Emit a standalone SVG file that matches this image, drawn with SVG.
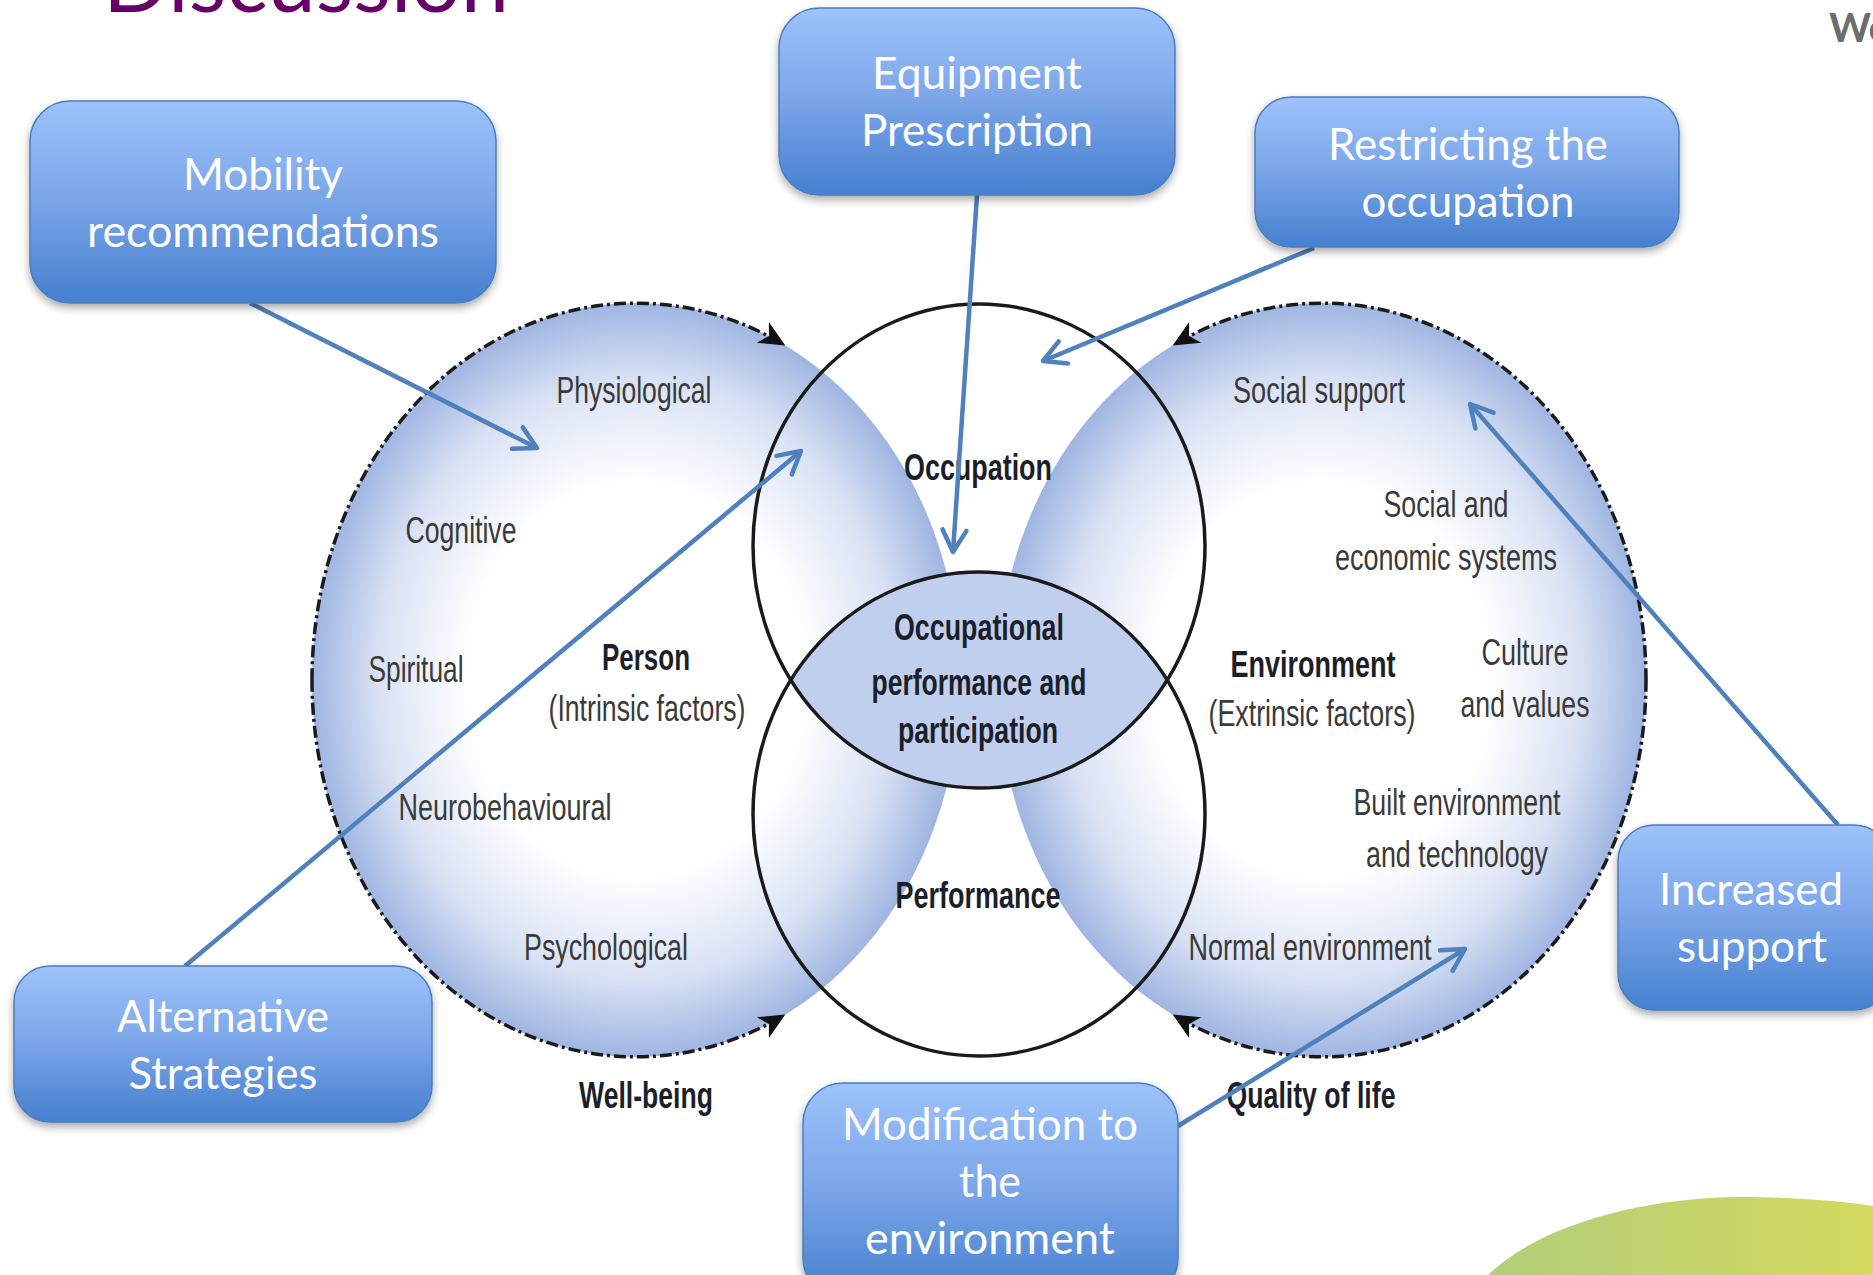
<svg xmlns="http://www.w3.org/2000/svg" width="1873" height="1275" viewBox="0 0 1873 1275">
<defs>
  <linearGradient id="boxGrad" x1="0" y1="0" x2="0" y2="1">
    <stop offset="0" stop-color="#9dc2fb"/>
    <stop offset="0.45" stop-color="#7ea8ea"/>
    <stop offset="1" stop-color="#4580cf"/>
  </linearGradient>
  <radialGradient id="ballGrad" cx="0.5" cy="0.5" r="0.5">
    <stop offset="0" stop-color="#ffffff"/>
    <stop offset="0.52" stop-color="#ffffff"/>
    <stop offset="0.8" stop-color="#d8e1f4"/>
    <stop offset="1" stop-color="#9fb5e1"/>
  </radialGradient>
  <linearGradient id="greenGrad" x1="0" y1="0" x2="1" y2="0">
    <stop offset="0" stop-color="#b2ce7a"/>
    <stop offset="1" stop-color="#d4d95e"/>
  </linearGradient>
  <filter id="shadow" x="-10%" y="-10%" width="120%" height="135%">
    <feDropShadow dx="0" dy="4" stdDeviation="4" flood-color="#000" flood-opacity="0.35"/>
  </filter>
  <marker id="open" markerUnits="userSpaceOnUse" markerWidth="34" markerHeight="34" viewBox="0 0 34 34" refX="28" refY="17" orient="auto" overflow="visible">
    <path d="M6,5 L28,17 L6,29" fill="none" stroke="#4f81bd" stroke-width="4.5" stroke-linecap="round" stroke-linejoin="round"/>
  </marker>
  <marker id="solid" markerUnits="userSpaceOnUse" markerWidth="28" markerHeight="26" viewBox="0 0 28 26" refX="21" refY="13" orient="auto" overflow="visible">
    <path d="M0,1 L26,13 L0,25 L7,13 z" fill="#111"/>
  </marker>
</defs>
<style>
  .box { fill: url(#boxGrad); stroke: #4b7dbd; stroke-width: 1.5; filter: url(#shadow); }
  .bt { font-family: Lato, "Liberation Sans", sans-serif; font-size: 44px; fill: #ffffff; text-anchor: middle; }
  .lbl { font-family: "Liberation Sans Narrow", "Liberation Sans", Arial, sans-serif; font-size: 37px; fill: #3a3a3a; text-anchor: middle; }
  .b { font-weight: bold; fill: #1c1f2a; }
  .conn { stroke: #4f81bd; stroke-width: 4.5; fill: none; marker-end: url(#open); }
  .circ { fill: none; stroke: #1a1a1a; stroke-width: 3.5; }
  .dash { fill: none; stroke: #1a1a1a; stroke-width: 3.5; stroke-dasharray: 12 4 3 4; marker-end: url(#solid); }
</style>

<rect x="0" y="0" width="1873" height="1275" fill="#ffffff"/>

<!-- slide decoration -->
<g id="slide">
  <text x="306" y="12" font-family="Lato, 'Liberation Sans', sans-serif" font-size="88" fill="#660066" text-anchor="middle" textLength="406" lengthAdjust="spacingAndGlyphs">Discussion</text>
  <text x="1829" y="42" font-family="Lato, 'Liberation Sans', sans-serif" font-size="40" font-weight="bold" fill="#6d6d6d">We</text>
  <path d="M1488,1275 C1540,1225 1640,1198 1740,1197 C1800,1197 1850,1202 1873,1206 L1873,1275 Z" fill="url(#greenGrad)"/>
</g>

<!-- PEOP model -->
<g id="model">
  <g id="person">
    <ellipse cx="636" cy="680" rx="324" ry="377" fill="url(#ballGrad)"/>
  </g>
  <g id="environment">
    <ellipse cx="1322" cy="680" rx="324" ry="377" fill="url(#ballGrad)"/>
  </g>
  <g id="lens">
    <path d="M790.8,680 A226,242 0 0 1 1167.2,680 A226,242 0 0 1 790.8,680 Z" fill="#c1cfee"/>
  </g>
  <g id="occupation">
    <ellipse class="circ" cx="979" cy="546" rx="226" ry="242"/>
  </g>
  <g id="performance">
    <ellipse class="circ" cx="979" cy="814" rx="226" ry="242"/>
  </g>
  <g id="cycles">
    <path class="dash" d="M312,680 A324,377 0 0 1 781,343"/>
    <path class="dash" d="M312,680 A324,377 0 0 0 781,1017"/>
    <path class="dash" d="M1646,680 A324,377 0 0 0 1177,343"/>
    <path class="dash" d="M1646,680 A324,377 0 0 1 1177,1017"/>
  </g>
  <g id="person-labels">
    <text class="lbl" x="634" y="403" textLength="155" lengthAdjust="spacingAndGlyphs">Physiological</text>
    <text class="lbl" x="461" y="543" textLength="111" lengthAdjust="spacingAndGlyphs">Cognitive</text>
    <text class="lbl" x="416" y="682" textLength="95" lengthAdjust="spacingAndGlyphs">Spiritual</text>
    <text class="lbl b" x="646" y="670" textLength="88" lengthAdjust="spacingAndGlyphs">Person</text>
    <text class="lbl" x="647" y="721" textLength="197" lengthAdjust="spacingAndGlyphs">(Intrinsic factors)</text>
    <text class="lbl" x="505" y="820" textLength="213" lengthAdjust="spacingAndGlyphs">Neurobehavioural</text>
    <text class="lbl" x="606" y="960" textLength="164" lengthAdjust="spacingAndGlyphs">Psychological</text>
    <text class="lbl b" x="646" y="1108" textLength="134" lengthAdjust="spacingAndGlyphs">Well-being</text>
  </g>
  <g id="centre-labels">
    <text class="lbl b" x="978" y="480" textLength="148" lengthAdjust="spacingAndGlyphs">Occupation</text>
    <text class="lbl b" x="979" y="640" textLength="170" lengthAdjust="spacingAndGlyphs">Occupational</text>
    <text class="lbl b" x="979" y="695" textLength="215" lengthAdjust="spacingAndGlyphs">performance and</text>
    <text class="lbl b" x="978" y="743" textLength="160" lengthAdjust="spacingAndGlyphs">participation</text>
    <text class="lbl b" x="978" y="908" textLength="165" lengthAdjust="spacingAndGlyphs">Performance</text>
  </g>
  <g id="environment-labels">
    <text class="lbl" x="1319" y="403" textLength="172" lengthAdjust="spacingAndGlyphs">Social support</text>
    <text class="lbl" x="1446" y="517" textLength="125" lengthAdjust="spacingAndGlyphs">Social and</text>
    <text class="lbl" x="1446" y="570" textLength="222" lengthAdjust="spacingAndGlyphs">economic systems</text>
    <text class="lbl b" x="1313" y="677" textLength="165" lengthAdjust="spacingAndGlyphs">Environment</text>
    <text class="lbl" x="1312" y="726" textLength="207" lengthAdjust="spacingAndGlyphs">(Extrinsic factors)</text>
    <text class="lbl" x="1525" y="665" textLength="87" lengthAdjust="spacingAndGlyphs">Culture</text>
    <text class="lbl" x="1525" y="717" textLength="129" lengthAdjust="spacingAndGlyphs">and values</text>
    <text class="lbl" x="1457" y="815" textLength="207" lengthAdjust="spacingAndGlyphs">Built environment</text>
    <text class="lbl" x="1457" y="867" textLength="182" lengthAdjust="spacingAndGlyphs">and technology</text>
    <text class="lbl" x="1310" y="960" textLength="243" lengthAdjust="spacingAndGlyphs">Normal environment</text>
    <text class="lbl b" x="1311" y="1108" textLength="169" lengthAdjust="spacingAndGlyphs">Quality of life</text>
  </g>
</g>

<!-- connectors -->
<g id="connectors">
  <line class="conn" x1="250" y1="303" x2="537" y2="448"/>
  <line class="conn" x1="977" y1="195" x2="953" y2="552"/>
  <line class="conn" x1="1314" y1="248" x2="1043" y2="361"/>
  <line class="conn" x1="185" y1="966" x2="801" y2="451"/>
  <line class="conn" x1="1838" y1="825" x2="1470" y2="404"/>
  <line class="conn" x1="1178" y1="1126" x2="1465" y2="949"/>
</g>

<!-- callout boxes -->
<g id="mobility">
  <rect class="box" x="30" y="101" width="466" height="202" rx="40"/>
  <text class="bt" x="263" y="190" textLength="160" lengthAdjust="spacingAndGlyphs">Mobility</text>
  <text class="bt" x="263" y="247" textLength="352" lengthAdjust="spacingAndGlyphs">recommendations</text>
</g>
<g id="equipment">
  <rect class="box" x="779" y="8" width="396" height="187" rx="40"/>
  <text class="bt" x="977" y="89" textLength="210" lengthAdjust="spacingAndGlyphs">Equipment</text>
  <text class="bt" x="977" y="146" textLength="232" lengthAdjust="spacingAndGlyphs">Prescription</text>
</g>
<g id="restricting">
  <rect class="box" x="1255" y="97" width="424" height="150" rx="36"/>
  <text class="bt" x="1468" y="160" textLength="280" lengthAdjust="spacingAndGlyphs">Restricting the</text>
  <text class="bt" x="1468" y="217" textLength="213" lengthAdjust="spacingAndGlyphs">occupation</text>
</g>
<g id="alternative">
  <rect class="box" x="14" y="966" width="418" height="156" rx="36"/>
  <text class="bt" x="223" y="1032" textLength="212" lengthAdjust="spacingAndGlyphs">Alternative</text>
  <text class="bt" x="223" y="1089" textLength="189" lengthAdjust="spacingAndGlyphs">Strategies</text>
</g>
<g id="increased">
  <rect class="box" x="1618" y="825" width="272" height="185" rx="36"/>
  <text class="bt" x="1751" y="905" textLength="184" lengthAdjust="spacingAndGlyphs">Increased</text>
  <text class="bt" x="1752" y="962" textLength="150" lengthAdjust="spacingAndGlyphs">support</text>
</g>
<g id="modification">
  <rect class="box" x="803" y="1083" width="375" height="215" rx="40"/>
  <text class="bt" x="990" y="1140" textLength="296" lengthAdjust="spacingAndGlyphs">Modification to</text>
  <text class="bt" x="990" y="1197" textLength="62" lengthAdjust="spacingAndGlyphs">the</text>
  <text class="bt" x="990" y="1254" textLength="250" lengthAdjust="spacingAndGlyphs">environment</text>
</g>
</svg>
